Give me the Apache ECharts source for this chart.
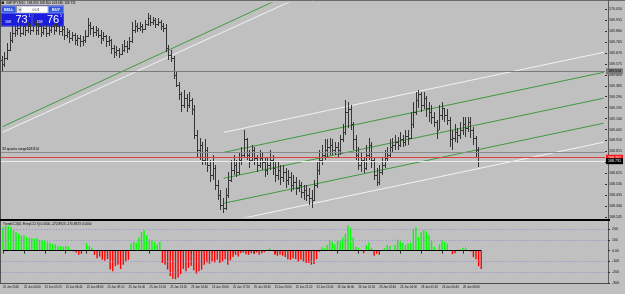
<!DOCTYPE html>
<html>
<head>
<meta charset="utf-8">
<script src="https://cdn.jsdelivr.net/npm/echarts@6/dist/echarts.min.js"></script>
<style>
  html, body { margin: 0; padding: 0; background: #c0c0c0; }
  #chart { width: 625px; height: 294px; }
</style>
</head>
<body>
<div id="chart"></div>
<script>
// GBPJPY M10 bar chart with TrendCCI histogram
const timeLabels = [
  '25 Jan 2016', '25 Jan 04:00', '25 Jan 05:20', '25 Jan 06:40', '25 Jan 08:00',
  '25 Jan 09:20', '25 Jan 10:40', '25 Jan 12:00', '25 Jan 13:20', '25 Jan 14:40',
  '25 Jan 16:00', '25 Jan 17:20', '25 Jan 18:40', '25 Jan 20:00', '25 Jan 21:20',
  '25 Jan 22:40', '26 Jan 00:00', '26 Jan 01:20', '26 Jan 02:40', '26 Jan 04:00',
  '26 Jan 05:20', '26 Jan 06:40', '26 Jan 08:00',
];

// [open, high, low, close]
const priceBars = [
  [169.61, 169.64, 169.51, 169.57], [169.57, 169.68, 169.55, 169.63], [169.63, 169.76, 169.61, 169.70],
  [169.70, 169.85, 169.69, 169.78], [169.78, 169.90, 169.76, 169.84], [169.84, 169.92, 169.81, 169.87],
  [169.87, 169.94, 169.83, 169.89], [169.89, 169.91, 169.81, 169.84], [169.84, 169.94, 169.83, 169.90],
  [169.90, 169.92, 169.82, 169.87], [169.87, 169.94, 169.84, 169.90], [169.90, 169.92, 169.83, 169.87],
  [169.87, 169.98, 169.85, 169.94], [169.94, 169.96, 169.83, 169.87], [169.87, 169.93, 169.83, 169.90],
  [169.90, 169.92, 169.81, 169.85], [169.85, 169.93, 169.83, 169.89], [169.89, 169.91, 169.81, 169.84],
  [169.84, 169.92, 169.82, 169.87], [169.87, 169.93, 169.84, 169.90], [169.90, 169.92, 169.83, 169.87],
  [169.87, 169.93, 169.85, 169.90], [169.90, 169.92, 169.83, 169.86], [169.86, 169.90, 169.82, 169.88],
  [169.88, 169.90, 169.78, 169.83], [169.83, 169.89, 169.80, 169.85], [169.85, 169.87, 169.76, 169.80],
  [169.80, 169.85, 169.77, 169.83], [169.83, 169.84, 169.74, 169.78], [169.78, 169.83, 169.73, 169.80],
  [169.80, 169.83, 169.72, 169.77], [169.77, 169.82, 169.73, 169.78], [169.78, 169.87, 169.76, 169.82],
  [169.82, 169.97, 169.81, 169.91], [169.91, 169.94, 169.83, 169.89], [169.89, 169.90, 169.81, 169.85],
  [169.85, 169.90, 169.82, 169.87], [169.87, 169.89, 169.80, 169.83], [169.83, 169.87, 169.75, 169.80],
  [169.80, 169.85, 169.77, 169.82], [169.82, 169.83, 169.72, 169.77], [169.77, 169.82, 169.73, 169.78],
  [169.78, 169.79, 169.66, 169.71], [169.71, 169.74, 169.63, 169.68], [169.68, 169.73, 169.64, 169.70],
  [169.70, 169.71, 169.63, 169.66], [169.66, 169.75, 169.65, 169.70], [169.70, 169.78, 169.68, 169.73],
  [169.73, 169.77, 169.67, 169.71], [169.71, 169.81, 169.70, 169.77], [169.77, 169.94, 169.76, 169.87],
  [169.87, 169.96, 169.84, 169.90], [169.90, 169.93, 169.85, 169.89], [169.89, 169.94, 169.86, 169.90],
  [169.90, 169.92, 169.84, 169.88], [169.88, 169.96, 169.87, 169.92], [169.92, 170.02, 169.90, 169.97],
  [169.97, 170.00, 169.90, 169.94], [169.94, 169.98, 169.91, 169.96], [169.96, 169.97, 169.89, 169.92],
  [169.92, 169.97, 169.90, 169.94], [169.94, 169.96, 169.87, 169.90], [169.90, 169.93, 169.85, 169.89],
  [169.89, 169.92, 169.68, 169.71], [169.71, 169.74, 169.61, 169.65], [169.65, 169.70, 169.59, 169.63],
  [169.63, 169.64, 169.44, 169.48], [169.48, 169.51, 169.37, 169.39], [169.39, 169.42, 169.26, 169.31],
  [169.31, 169.33, 169.16, 169.22], [169.22, 169.35, 169.19, 169.28], [169.28, 169.31, 169.16, 169.22],
  [169.22, 169.33, 169.19, 169.26], [169.26, 169.28, 169.13, 169.18], [169.18, 169.22, 168.92, 168.96],
  [168.96, 169.00, 168.76, 168.83], [168.83, 168.93, 168.74, 168.87], [168.87, 168.90, 168.70, 168.74],
  [168.74, 168.92, 168.70, 168.83], [168.83, 168.85, 168.64, 168.70], [168.70, 168.74, 168.55, 168.61],
  [168.61, 168.78, 168.57, 168.67], [168.67, 168.70, 168.48, 168.52], [168.52, 168.57, 168.39, 168.44],
  [168.44, 168.48, 168.31, 168.35], [168.35, 168.41, 168.28, 168.32], [168.32, 168.50, 168.31, 168.44],
  [168.44, 168.64, 168.41, 168.57], [168.57, 168.74, 168.55, 168.65], [168.65, 168.78, 168.61, 168.70],
  [168.70, 168.74, 168.59, 168.64], [168.64, 168.81, 168.61, 168.74], [168.74, 168.85, 168.70, 168.78],
  [168.78, 169.00, 168.76, 168.92], [168.92, 168.93, 168.74, 168.78], [168.78, 168.83, 168.67, 168.74],
  [168.74, 168.87, 168.72, 168.83], [168.83, 168.85, 168.70, 168.76], [168.76, 168.78, 168.64, 168.70],
  [168.70, 168.83, 168.67, 168.76], [168.76, 168.81, 168.65, 168.72], [168.72, 168.76, 168.59, 168.65],
  [168.65, 168.76, 168.61, 168.70], [168.70, 168.83, 168.65, 168.74], [168.74, 168.78, 168.61, 168.67],
  [168.67, 168.72, 168.55, 168.61], [168.61, 168.72, 168.57, 168.65], [168.65, 168.70, 168.52, 168.59],
  [168.59, 168.70, 168.55, 168.64], [168.64, 168.67, 168.50, 168.57], [168.57, 168.65, 168.52, 168.59],
  [168.59, 168.64, 168.46, 168.52], [168.52, 168.61, 168.48, 168.55], [168.55, 168.59, 168.44, 168.50],
  [168.50, 168.57, 168.46, 168.52], [168.52, 168.55, 168.41, 168.46], [168.46, 168.52, 168.39, 168.48],
  [168.48, 168.52, 168.38, 168.44], [168.44, 168.50, 168.35, 168.41], [168.41, 168.48, 168.32, 168.39],
  [168.39, 168.57, 168.38, 168.52], [168.52, 168.72, 168.50, 168.65], [168.65, 168.83, 168.61, 168.74],
  [168.74, 168.87, 168.70, 168.78], [168.78, 168.92, 168.74, 168.83], [168.83, 168.92, 168.76, 168.85],
  [168.85, 168.93, 168.78, 168.87], [168.87, 168.92, 168.78, 168.83], [168.83, 168.90, 168.78, 168.85],
  [168.85, 168.90, 168.77, 168.83], [168.83, 168.96, 168.78, 168.92], [168.92, 169.05, 168.90, 168.98],
  [168.98, 169.26, 168.96, 169.16], [169.16, 169.24, 169.02, 169.18], [169.18, 169.22, 169.00, 169.05],
  [169.05, 169.07, 168.83, 168.92], [168.92, 168.96, 168.74, 168.78], [168.78, 168.85, 168.65, 168.70],
  [168.70, 168.81, 168.64, 168.74], [168.74, 168.77, 168.63, 168.67], [168.67, 168.87, 168.65, 168.78],
  [168.78, 168.93, 168.74, 168.87], [168.87, 168.90, 168.67, 168.74], [168.74, 168.76, 168.57, 168.61],
  [168.61, 168.67, 168.51, 168.55], [168.55, 168.70, 168.52, 168.64], [168.64, 168.76, 168.61, 168.70],
  [168.70, 168.83, 168.67, 168.76], [168.76, 168.85, 168.72, 168.78], [168.78, 168.92, 168.77, 168.85],
  [168.85, 168.93, 168.80, 168.87], [168.87, 168.96, 168.83, 168.90], [168.90, 168.94, 168.83, 168.87],
  [168.87, 168.98, 168.85, 168.92], [168.92, 168.96, 168.85, 168.90], [168.90, 169.00, 168.86, 168.95],
  [168.95, 169.00, 168.87, 168.93], [168.93, 169.16, 168.92, 169.05], [169.05, 169.24, 169.02, 169.16],
  [169.16, 169.33, 169.13, 169.26], [169.26, 169.35, 169.19, 169.31], [169.31, 169.33, 169.16, 169.22],
  [169.22, 169.33, 169.18, 169.28], [169.28, 169.30, 169.11, 169.19], [169.19, 169.24, 169.07, 169.16],
  [169.16, 169.22, 169.05, 169.11], [169.11, 169.16, 169.03, 169.07], [169.07, 169.09, 168.92, 169.00],
  [169.00, 169.22, 169.00, 169.13], [169.13, 169.24, 169.09, 169.19], [169.19, 169.19, 169.07, 169.13],
  [169.13, 169.18, 169.04, 169.09], [169.09, 169.11, 168.85, 168.92], [168.92, 169.00, 168.83, 168.93],
  [168.93, 169.05, 168.90, 168.98], [168.98, 169.02, 168.89, 168.96], [168.96, 169.07, 168.92, 169.00],
  [169.00, 169.11, 168.96, 169.05], [169.05, 169.11, 168.94, 169.02], [169.02, 169.11, 168.98, 169.07],
  [169.07, 169.11, 168.93, 169.00], [169.00, 169.03, 168.87, 168.93], [168.93, 168.95, 168.76, 168.83],
  [168.83, 168.85, 168.68, 168.731],
];

const cciValues = [
  218, 233, 233, 218, 188, 173, 157, 142, 142, 127, 120, 112, 112, 115, 97, 97, 92, 82, 73, 60,
  60, 42, 42, 36, 42, 36, 10, -6, -18, -39, -30, 5, 67, 45, 27, -39, -70, -55, -85, -94,
  -78, -176, -191, -145, -130, -170, -130, -100, -85, 67, 82, 73, 121, 173, 188, 142, 103, 97, 82, 60,
  82, -115, -130, -176, -236, -260, -265, -250, -220, -170, -191, -160, -140, -182, -212, -191, -176, -130, -109, -121,
  -100, -110, -85, -115, -100, -79, -130, -90, -60, -39, -55, -24, -18, -33, -39, -25, -30, -18, -39, -25,
  -15, 8, 21, 5, -39, -48, -39, -48, -60, -79, -85, -70, -79, -100, -85, -100, -115, -115, -130, -125,
  -79, -10, 30, 21, 51, 97, 82, 60, 88, 88, 118, 158, 233, 212, 121, 36, 27, 3, -24, 51,
  76, 27, -48, -30, -39, 2, 21, 51, 42, 4, 51, 103, 91, 73, 51, 67, 73, 203, 218, 127,
  173, 188, 179, 142, 88, 36, 3, 58, 97, 82, 67, 3, -33, -24, 2, 12, 27, 27, 3, -9,
  -61, -79, -145, -170.8923,
];

const cciLevels = [200, 100, -100, -200];
const levelPrices = [169.514, 168.814, 168.761, 168.731];

// trend lines: two anchor points [bar index, price]
const trendLines = [
  [[0, 169.029], [110, 170.177]],
  [[0, 168.980], [122, 170.234]],
  [[85, 168.980], [231, 169.676]],
  [[85, 168.806], [231, 169.502]],
  [[85, 168.581], [231, 169.277]],
  [[85, 168.364], [231, 169.060]],
  [[85, 168.199], [231, 168.895]],
];
const trendColors = ['#3f9a3f', '#f2f2f2', '#f2f2f2', '#3f9a3f', '#3f9a3f', '#3f9a3f', '#f2f2f2'];

const TOTAL_SLOTS = 232;
const PRICE_MIN = 168.245;
const PRICE_MAX = 170.104;
const PRICE_STEP = 0.095;
const CCI_MIN = -300;
const CCI_MAX = 265;
const CCI_STEP = 100;

const FONT = 'Liberation Sans';
const BAR_COLOR = '#353535';
const slots = Array.from({ length: TOTAL_SLOTS }, (_, i) => String(i));
const lastBar = priceBars[priceBars.length - 1];
const lastCci = cciValues[cciValues.length - 1];

const levelLook = [
  { line: '#7a7a7a', tagBg: '#7a7a7a', tagFg: '#000000' },
  { line: '#8a8a8a', note: '33 quanto range' },
  { line: '#e04040', tagBg: '#ff1a1a', tagFg: '#ffffff' },
  { line: '#ececec', tagBg: '#000000', tagFg: '#ffffff' },
];

const levelMarks = levelPrices.map((price, i) => {
  const look = levelLook[i];
  const item = { yAxis: price, lineStyle: { color: look.line, width: 1, type: 'solid' } };
  if (look.note) {
    item.label = {
      show: true, position: 'insideStartTop', distance: 1,
      formatter: look.note + price.toFixed(3), fontSize: 3.4, fontFamily: FONT, color: '#000',
    };
  } else {
    item.label = {
      show: true, position: 'end', distance: 1, formatter: price.toFixed(3),
      backgroundColor: look.tagBg, color: look.tagFg, fontSize: 3.6, fontFamily: FONT,
      padding: [1, 2, 1, 2],
    };
  }
  return item;
});

function renderBar(params, api) {
  const i = api.value(0);
  const x = Math.floor(api.coord([i, api.value(1)])[0]);
  const yo = Math.round(api.coord([i, api.value(1)])[1]);
  const yh = Math.round(api.coord([i, api.value(2)])[1]);
  const yl = Math.round(api.coord([i, api.value(3)])[1]);
  const yc = Math.round(api.coord([i, api.value(4)])[1]);
  const style = { fill: BAR_COLOR };
  return {
    type: 'group',
    children: [
      { type: 'rect', shape: { x: x, y: yh, width: 1, height: Math.max(1, yl - yh) }, style },
      { type: 'rect', shape: { x: x - 1, y: yo, width: 1, height: 1 }, style },
      { type: 'rect', shape: { x: x + 1, y: yc, width: 1, height: 1 }, style },
    ],
  };
}

function txt(x, y, text, size, color, align, weight) {
  return {
    type: 'text', x, y, silent: true,
    style: {
      text, fill: color, fontSize: size, fontFamily: FONT, fontWeight: weight || 'normal',
      align: align || 'left', verticalAlign: 'middle',
      textAlign: align || 'left', textVerticalAlign: 'middle',
    },
  };
}
function rect(x, y, w, h, fill, stroke) {
  return {
    type: 'rect', silent: true, shape: { x, y, width: w, height: h },
    style: { fill, stroke: stroke || null, lineWidth: stroke ? 0.6 : 0 },
  };
}
function hline(x1, x2, y, color, w) {
  return { type: 'line', silent: true, shape: { x1, y1: y, x2, y2: y }, style: { stroke: color, lineWidth: w || 1 } };
}
function vline(x, y1, y2, color, w) {
  return { type: 'line', silent: true, shape: { x1: x, y1, x2: x, y2 }, style: { stroke: color, lineWidth: w || 1 } };
}

const title = 'GBPJPY,M10  ' + lastBar.map((v) => v.toFixed(3)).join(' ');
const cciTitle = 'TrendCCI(50, EntryCCI 6) 0.0000 ' + lastCci.toFixed(4) + ' ' + lastCci.toFixed(4) + ' 0.0000';

const graphics = [
  hline(0, 625, 0.5, '#6a6a6a'),
  vline(0.5, 0, 284, '#505050'),
  vline(608.5, 0, 284, '#5a5a5a'),
  hline(0, 610, 220, '#000000', 2),
  hline(0, 609, 283.5, '#505050'),
  rect(1.5, 1.5, 2.5, 2.5, '#202020'),
  txt(6, 3, title, 3.2, '#000'),
  txt(3, 224, cciTitle, 3.2, '#000'),
  // one-click trading panel
  rect(1, 5.5, 63, 21, '#0a0a9c'),
  rect(1.5, 6, 14.5, 7, '#3458dc', '#a9b8ff'),
  txt(8.7, 9.6, 'SELL', 3.8, '#ffffff', 'center', 'bold'),
  rect(16.5, 6, 31.5, 7, '#ffffff', '#8a8a8a'),
  rect(17, 6.5, 5, 6, '#d8d8d8'),
  txt(19.5, 9.6, '\u25be', 3.5, '#555', 'center'),
  txt(36, 9.6, '0.01', 3.6, '#333', 'center'),
  rect(48.5, 6, 15, 7, '#3458dc', '#a9b8ff'),
  txt(56, 9.6, 'BUY', 3.8, '#ffffff', 'center', 'bold'),
  rect(1.5, 13.5, 30.5, 12.5, '#1c1cdc', '#5a6cff'),
  rect(33, 13.5, 30.5, 12.5, '#1c1cdc', '#5a6cff'),
  txt(5, 21.5, '168', 3.6, '#ffffff'),
  txt(21.5, 20, '73', 11, '#ffffff', 'center'),
  txt(29.5, 16, '1', 3.8, '#ffffff', 'center'),
  txt(36.5, 21.5, '168', 3.6, '#ffffff'),
  txt(53, 20, '76', 11, '#ffffff', 'center'),
  txt(61, 16, '1', 3.8, '#ffffff', 'center'),
];

const chart = echarts.init(document.getElementById('chart'));
chart.setOption({
  animation: false,
  backgroundColor: '#c0c0c0',
  grid: [
    { left: 1, top: 3, width: 607, height: 214 },
    { left: 1, top: 222, width: 607, height: 61 },
  ],
  xAxis: [
    { type: 'category', gridIndex: 0, data: slots, boundaryGap: true, show: false },
    {
      type: 'category', gridIndex: 1, data: slots, boundaryGap: true,
      axisLine: { show: false },
      axisTick: {
        show: true, alignWithLabel: true, length: 3,
        interval: (idx) => idx % 8 === 0 && idx < priceBars.length,
        lineStyle: { color: '#303030' },
      },
      axisLabel: {
        interval: (idx) => idx % 8 === 0 && idx < priceBars.length,
        align: 'left', margin: 3, fontSize: 2.9, fontFamily: FONT, color: '#111',
        formatter: (v, idx) => timeLabels[idx / 8] || '',
      },
      splitLine: { show: false },
    },
  ],
  yAxis: [
    {
      type: 'value', gridIndex: 0, position: 'right',
      min: PRICE_MIN, max: PRICE_MAX, interval: PRICE_STEP,
      axisLine: { show: false },
      axisTick: { show: true, length: 2, lineStyle: { color: '#303030' } },
      axisLabel: {
        margin: 4, fontSize: 3.6, fontFamily: FONT, color: '#111', showMaxLabel: false,
        formatter: (v) => v.toFixed(3),
      },
      splitLine: { show: false },
    },
    {
      type: 'value', gridIndex: 1, position: 'right',
      min: CCI_MIN, max: CCI_MAX, interval: CCI_STEP,
      axisLine: { show: false },
      axisTick: { show: true, length: 2, lineStyle: { color: '#303030' } },
      axisLabel: {
        margin: 4, fontSize: 3.6, fontFamily: FONT, color: '#111', showMaxLabel: false,
        formatter: (v) => (v === 0 ? '0.00' : String(v)),
      },
      splitLine: { show: false },
    },
  ],
  series: [
    ...trendLines.map((pts, i) => ({
      type: 'line', xAxisIndex: 0, yAxisIndex: 0, data: pts,
      showSymbol: false, symbol: 'none', silent: true, clip: true,
      lineStyle: { color: trendColors[i], width: 1 },
      z: 1,
    })),
    {
      type: 'line', xAxisIndex: 0, yAxisIndex: 0, data: [], silent: true, z: 1,
      markLine: { silent: true, symbol: 'none', animation: false, data: levelMarks },
    },
    {
      type: 'custom', xAxisIndex: 0, yAxisIndex: 0, silent: true, z: 3,
      data: priceBars.map((b, i) => [i, b[0], b[1], b[2], b[3]]),
      encode: { x: 0, y: [1, 2, 3, 4] },
      renderItem: renderBar,
    },
    {
      type: 'bar', xAxisIndex: 1, yAxisIndex: 1, silent: true, barWidth: 1.4,
      data: cciValues.map((v) => ({ value: v, itemStyle: { color: v >= 0 ? '#00ff00' : '#ff0000' } })),
      markLine: {
        silent: true, symbol: 'none', animation: false, label: { show: false },
        data: [
          ...cciLevels.map((lv) => ({ yAxis: lv, lineStyle: { color: '#8a8ad4', width: 1, type: [1, 2] } })),
          [
            { coord: [0, 0], lineStyle: { color: '#000000', width: 1, type: 'solid' } },
            { coord: [priceBars.length - 1, 0] },
          ],
        ],
      },
    },
  ],
  graphic: { elements: graphics },
});
</script>
</body>
</html>
